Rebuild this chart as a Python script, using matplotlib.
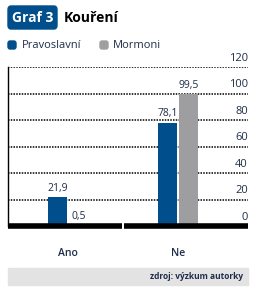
import numpy as np
import matplotlib.pyplot as plt
from matplotlib.patches import FancyBboxPatch, Rectangle
import matplotlib.transforms as mtransforms

plt.rcParams['font.family'] = ['Open Sans', 'DejaVu Sans']

kategorie = ['Ano', 'Ne']
pravoslavni = [21.9, 78.1]
mormoni = [0.5, 99.5]
popisky_pravoslavni = ['21,9', '78,1']
popisky_mormoni = ['0,5', '99,5']
osa_y = [0, 20, 40, 60, 80, 100, 120]

modra = '#004f8c'
seda = '#9e9ea0'
text_barva = '#1f2d4a'

W, H = 255, 293
fig = plt.figure(figsize=(W / 100, H / 100), dpi=100)

def px(x, y):
    return x / W, 1 - y / H

# hlavicka
fig.patches.append(FancyBboxPatch(px(8, 29), 49 / W, 23 / H,
                                  boxstyle='round,pad=0,rounding_size=0.012',
                                  transform=fig.transFigure, color=modra))
fig.text(*px(32.5, 17.5), 'Graf 3', color='white', fontsize=10, fontweight='bold',
         ha='center', va='center')
fig.text(*px(64, 17.5), 'Kouření', color='black', fontsize=10, fontweight='bold',
         ha='left', va='center')

# legenda
fig.patches.append(FancyBboxPatch(px(8, 49), 8 / W, 8 / H,
                                  boxstyle='round,pad=0,rounding_size=0.008',
                                  transform=fig.transFigure, color=modra))
fig.text(*px(22, 45), 'Pravoslavní', color=text_barva, fontsize=8, ha='left', va='center')
fig.patches.append(FancyBboxPatch(px(100, 49), 8 / W, 8 / H,
                                  boxstyle='round,pad=0,rounding_size=0.008',
                                  transform=fig.transFigure, color=seda))
fig.text(*px(113, 45), 'Mormoni', color=text_barva, fontsize=8, ha='left', va='center')

left, right = 8, 248
top, bottom = 67, 226
ax = fig.add_axes([left / W, 1 - bottom / H, (right - left) / W, (bottom - top) / H])
ax.set_xlim(-0.545, 1.636)
ax.set_ylim(0, 120)

x = np.arange(len(kategorie))
sirka = 0.173
off = 0.095
ax.bar(x - off, pravoslavni, sirka, color=modra, zorder=3)
ax.bar(x + off, mormoni, sirka, color=seda, zorder=3)

for xi, v, t in zip(x - off, pravoslavni, popisky_pravoslavni):
    ax.text(xi, v + 2.5, t, ha='center', va='bottom', fontsize=7.5, color=text_barva)
for xi, v, t in zip(x + off, mormoni, popisky_mormoni):
    ax.text(xi, v + 2.5, t, ha='center', va='bottom', fontsize=7.5, color=text_barva)

for v in osa_y[1:]:
    ax.axhline(v, color='black', lw=1.1, ls=(0, (1, 0.8)), zorder=1)

trans = mtransforms.blended_transform_factory(ax.transAxes, ax.transData)
for v in osa_y:
    ax.text(1.0, v + 2.5, str(v), transform=trans, ha='right', va='bottom',
            fontsize=8, color=text_barva)

# spodni tlusta cara s mezerou
mez = 0.5
ax.plot([-0.545, mez - 0.01], [0, 0], color='black', lw=4, solid_capstyle='butt',
        clip_on=False, zorder=4)
ax.plot([mez + 0.01, 1.636], [0, 0], color='black', lw=4, solid_capstyle='butt',
        clip_on=False, zorder=4)

for s in ['top', 'right', 'bottom']:
    ax.spines[s].set_visible(False)
ax.spines['left'].set_linewidth(1.0)
ax.set_xticks([])
ax.set_yticks([])
ax.patch.set_alpha(0)

for xi, k in zip(x, kategorie):
    ax.text(xi, -20.5, k, ha='center', va='center', fontsize=7.5,
            fontweight='semibold', color=text_barva)

# zdroj
fig.patches.append(Rectangle(px(8, 285), 240 / W, 17 / H, transform=fig.transFigure,
                             color='#e3e3e3'))
fig.text(*px(243, 276.5), 'zdroj: výzkum autorky', color=text_barva, fontsize=6,
         fontweight='bold', ha='right', va='center')

fig.savefig('out.png', dpi=100)
